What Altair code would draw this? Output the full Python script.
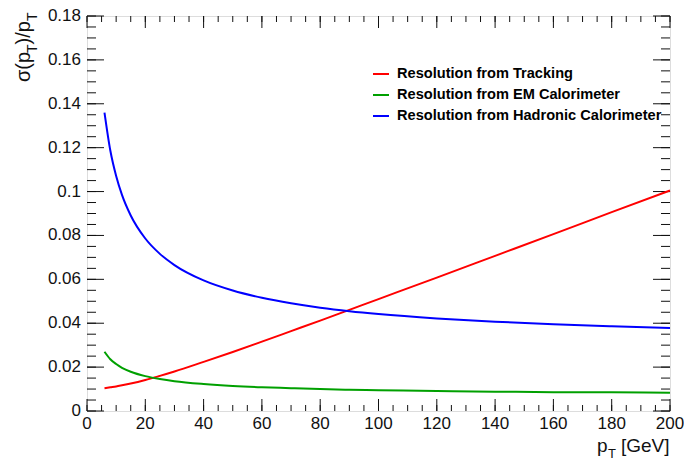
import altair as alt
import pandas as pd

# ---- data ----
pt = [6, 8, 10, 12, 15, 20, 25, 30, 40, 50, 60, 70, 80, 90, 100, 120, 140, 160, 180, 200]
tracking = [0.0104, 0.0108, 0.0112, 0.0117, 0.0125, 0.0141, 0.0160, 0.0180, 0.0224, 0.0269,
            0.0316, 0.0364, 0.0412, 0.0461, 0.0510, 0.0608, 0.0707, 0.0806, 0.0906, 0.1005]
em_calo = [0.0270, 0.0236, 0.0214, 0.0197, 0.0179, 0.0159, 0.0146, 0.0136, 0.0123, 0.0114,
           0.0108, 0.0104, 0.0100, 0.0097, 0.0095, 0.0091, 0.0088, 0.0086, 0.0085, 0.0083]
had_calo = [0.1360, 0.1187, 0.1071, 0.0985, 0.0891, 0.0786, 0.0716, 0.0665, 0.0595, 0.0549,
            0.0516, 0.0491, 0.0471, 0.0455, 0.0442, 0.0422, 0.0407, 0.0395, 0.0386, 0.0378]

series_names = ["Resolution from Tracking", "Resolution from EM Calorimeter",
                "Resolution from Hadronic Calorimeter"]
series_colors = ["#ff0000", "#00a000", "#0000ff"]

x_major = [0, 20, 40, 60, 80, 100, 120, 140, 160, 180, 200]
x_labels = ["0", "20", "40", "60", "80", "100", "120", "140", "160", "180", "200"]
x_minor = [i * 5 for i in range(41)]
y_major = [0, 0.02, 0.04, 0.06, 0.08, 0.1, 0.12, 0.14, 0.16, 0.18]
y_labels = ["0", "0.02", "0.04", "0.06", "0.08", "0.1", "0.12", "0.14", "0.16", "0.18"]
y_minor = [i * 0.005 for i in range(37)]

y_title_parts = ["σ(p", "T", ")/p", "T"]
x_title_parts = ["p", "T", "[GeV]"]

W, H = 583, 395
FONT = "Liberation Sans"
AXC = "#111111"

rows = []
for name, vals in zip(series_names, [tracking, em_calo, had_calo]):
    for p, v in zip(pt, vals):
        rows.append({"pt": p, "res": v, "series": name})
df = pd.DataFrame(rows)

xs = alt.Scale(domain=[0, 200], nice=False, zero=False)
ys = alt.Scale(domain=[0, 0.18], nice=False, zero=False)

lines = alt.Chart(df).mark_line(strokeWidth=2, interpolate="monotone").encode(
    x=alt.X("pt:Q", scale=xs, axis=None),
    y=alt.Y("res:Q", scale=ys, axis=None),
    color=alt.Color("series:N",
                    scale=alt.Scale(domain=series_names, range=series_colors),
                    sort=series_names,
                    legend=alt.Legend(orient="none", legendX=285, legendY=49, title=None,
                                      symbolType="stroke", symbolSize=256, symbolStrokeWidth=2,
                                      labelFont=FONT, labelFontSize=14.6, labelFontWeight="bold",
                                      labelColor="#000", rowPadding=5, labelOffset=7,
                                      padding=0, labelLimit=0)),
)

def xticks(vals, length):
    d = pd.DataFrame({"v": vals})
    bottom = alt.Chart(d).mark_rule(color=AXC, strokeWidth=1).encode(
        x=alt.X("v:Q", scale=xs, axis=None), y=alt.value(H), y2=alt.value(H - length))
    top = alt.Chart(d).mark_rule(color=AXC, strokeWidth=1).encode(
        x=alt.X("v:Q", scale=xs, axis=None), y=alt.value(0), y2=alt.value(length))
    return [bottom, top]

def yticks(vals, length):
    d = pd.DataFrame({"v": vals})
    left = alt.Chart(d).mark_rule(color=AXC, strokeWidth=1).encode(
        y=alt.Y("v:Q", scale=ys, axis=None), x=alt.value(0), x2=alt.value(length))
    right = alt.Chart(d).mark_rule(color=AXC, strokeWidth=1).encode(
        y=alt.Y("v:Q", scale=ys, axis=None), x=alt.value(W), x2=alt.value(W - length))
    return [left, right]

xlab = alt.Chart(pd.DataFrame({"v": x_major, "t": x_labels})).mark_text(
    font=FONT, fontSize=17, align="center", baseline="top", color=AXC).encode(
    x=alt.X("v:Q", scale=xs, axis=None), y=alt.value(H + 5), text="t:N")
ylab = alt.Chart(pd.DataFrame({"v": y_major, "t": y_labels})).mark_text(
    font=FONT, fontSize=17, align="right", baseline="middle", color=AXC).encode(
    y=alt.Y("v:Q", scale=ys, axis=None), x=alt.value(-6), text="t:N")

def txt(s, x, y, size, angle=0):
    return alt.Chart(pd.DataFrame({"t": [s]})).mark_text(
        font=FONT, fontSize=size, align="left", baseline="alphabetic", angle=angle,
        color=AXC).encode(text="t:N", x=alt.value(x), y=alt.value(y))

# y title pieces (rotated, reading upward)
ys0 = 66
yt = [
    txt(y_title_parts[0], -57, ys0, 20, 270),
    txt(y_title_parts[1], -50, ys0 - 29, 14, 270),
    txt(y_title_parts[2], -57, ys0 - 37.5, 20, 270),
    txt(y_title_parts[3], -50, ys0 - 61, 14, 270),
]
# x title pieces
xt = [
    txt(x_title_parts[0], 510, 436, 19),
    txt(x_title_parts[1], 521, 442, 13),
    txt(x_title_parts[2], 534, 436, 19),
]

layers = (xticks(x_minor, 6) + xticks(x_major, 12) + yticks(y_minor, 9) + yticks(y_major, 17)
          + [xlab, ylab, lines] + yt + xt)

chart = alt.layer(*layers).properties(
    width=W, height=H,
    autosize=alt.AutoSizeParams(type="none"),
    padding={"left": 79, "top": 8, "right": 14, "bottom": 49},
).configure_view(stroke=AXC, strokeWidth=1.2).configure(background="white")

chart.save("out.html", embed_options={"renderer": "svg", "actions": False})
